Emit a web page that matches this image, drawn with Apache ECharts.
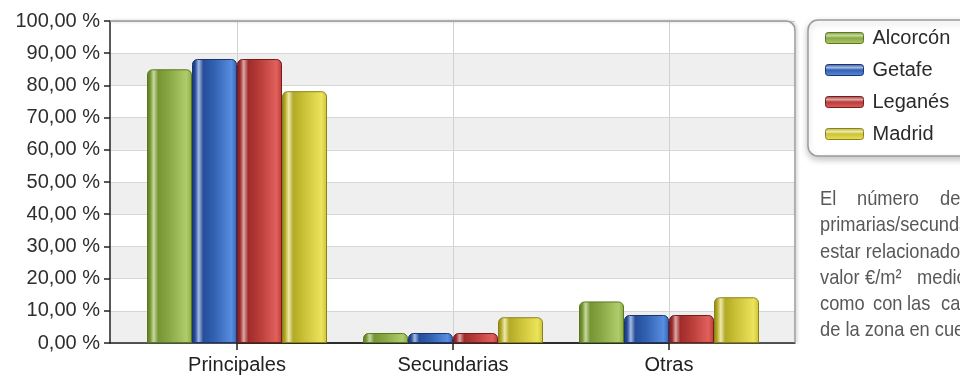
<!DOCTYPE html>
<html>
<head>
<meta charset="utf-8">
<script src="https://cdn.jsdelivr.net/npm/echarts@6/dist/echarts.min.js"></script>
<style>
  html, body { margin: 0; padding: 0; background: #ffffff; }
  #chart { width: 960px; height: 378px; }
</style>
</head>
<body>
<div id="chart"></div>
<script>
// ---- data ----
const categories = ['Principales', 'Secundarias', 'Otras'];
const cities = ['Alcorcón', 'Getafe', 'Leganés', 'Madrid'];
const alcorcon = [85.0, 3.1, 12.9];
const getafe = [88.2, 3.1, 8.7];
const leganes = [88.2, 3.1, 8.7];
const madrid = [78.2, 8.0, 14.2];
const yTickValues = [0, 10, 20, 30, 40, 50, 60, 70, 80, 90, 100];
const yTickLabels = ['0,00 %', '10,00 %', '20,00 %', '30,00 %', '40,00 %', '50,00 %',
                     '60,00 %', '70,00 %', '80,00 %', '90,00 %', '100,00 %'];

// ---- layout ----
const W = 960, H = 378;
const plot = { left: 110, top: 21, right: 795, bottom: 343 };   // full framed plot area
const groupCenters = { first: 237, last: 669 };                 // inner band holding the categories
const FONT = '"Liberation Sans", Arial, sans-serif';

// glossy cylinder palettes: edge, dark, highlight, mid, light
const palettes = [
  { edge: '#5a781e', dark: '#759532', hi: '#c6d99e', mid: '#8aa946', light: '#b0cc6a' },
  { edge: '#1a3571', dark: '#264d99', hi: '#a6bbe2', mid: '#3262b2', light: '#588ddf' },
  { edge: '#781b1b', dark: '#9e2c2c', hi: '#dba8a6', mid: '#b93c3a', light: '#e1605c' },
  { edge: '#8a8414', dark: '#b3aa26', hi: '#eee8ae', mid: '#cbc238', light: '#ebe35a' }
];

function linear(x2, y2, stops) {
  return { type: 'linear', x: 0, y: 0, x2: x2, y2: y2, colorStops: stops };
}
function barGradient(p) {
  return linear(1, 0, [
    { offset: 0.00, color: p.edge },
    { offset: 0.07, color: p.dark },
    { offset: 0.15, color: p.hi },
    { offset: 0.25, color: p.dark },
    { offset: 0.50, color: p.mid },
    { offset: 0.88, color: p.light },
    { offset: 1.00, color: p.mid }
  ]);
}
function swatchGradient(p) {
  return linear(0, 1, [
    { offset: 0.0, color: p.dark },
    { offset: 0.3, color: p.hi },
    { offset: 0.5, color: p.mid },
    { offset: 1.0, color: p.light }
  ]);
}

const seriesValues = [alcorcon, getafe, leganes, madrid];

const series = cities.map((name, i) => ({
  name: name,
  type: 'bar',
  xAxisIndex: 1,
  yAxisIndex: 1,
  data: seriesValues[i],
  barWidth: 45,
  barGap: '0%',
  clip: false,
  itemStyle: {
    color: barGradient(palettes[i]),
    borderColor: palettes[i].edge,
    borderWidth: 1,
    borderRadius: [5, 5, 0, 0]
  },
  emphasis: { disabled: true }
}));

// justified side note, one entry per word: [text, x]
const noteLines = [
  [['El', 820], ['número', 857], ['de', 940]],
  [['primarias/secundarias', 820]],
  [['estar relacionado con el', 820]],
  [['valor', 820], ['€/m²', 865], ['medio', 917]],
  [['como', 820], ['con', 873], ['las', 907], ['características', 941]],
  [['de la zona en cuestión.', 820]]
];
const noteBaseline0 = 206.5, noteLineStep = 26.3, noteFontSize = 21;
const noteText = [];
noteLines.forEach((line, li) => {
  line.forEach(([word, x]) => {
    noteText.push({
      type: 'text',
      x: x,
      y: noteBaseline0 + li * noteLineStep - noteFontSize * 0.35,
      scaleX: 0.87,
      silent: true,
      style: {
        text: word,
        fill: '#585858',
        font: noteFontSize + 'px ' + FONT,
        verticalAlign: 'middle',
        align: 'left'
      }
    });
  });
});

// frame: top edge, rounded top-right corner, right edge
const cr = 9;
const frameStyle = {
  stroke: '#9c9c9c', lineWidth: 1.5,
  shadowBlur: 3, shadowColor: 'rgba(0,0,0,0.25)', shadowOffsetX: 1.5
};
const frame = [
  { type: 'line', silent: true, z: 1,
    shape: { x1: plot.left, y1: plot.top, x2: plot.right - cr, y2: plot.top }, style: frameStyle },
  { type: 'arc', silent: true, z: 1,
    shape: { cx: plot.right - cr, cy: plot.top + cr, r: cr, startAngle: -Math.PI / 2, endAngle: 0, clockwise: true },
    style: Object.assign({ fill: null }, frameStyle) },
  { type: 'line', silent: true, z: 1,
    shape: { x1: plot.right, y1: plot.top + cr, x2: plot.right, y2: plot.bottom }, style: frameStyle }
];

const axisDark = { color: '#222222', width: 1.5 };

const option = {
  animation: false,
  backgroundColor: '#ffffff',
  textStyle: { fontFamily: FONT },
  grid: [
    { left: plot.left, right: W - plot.right, top: plot.top, bottom: H - plot.bottom },
    { left: groupCenters.first, right: W - groupCenters.last, top: plot.top, bottom: H - plot.bottom }
  ],
  xAxis: [
    {
      gridIndex: 0, type: 'category', data: [''],
      axisLine: { show: true, lineStyle: axisDark },
      axisTick: { show: false }, axisLabel: { show: false }, splitLine: { show: false }
    },
    {
      gridIndex: 1, type: 'category', data: categories, boundaryGap: false,
      axisLine: { show: true, lineStyle: axisDark },
      axisTick: { show: true, length: 7, lineStyle: { color: '#222222', width: 1.5 } },
      axisLabel: { fontSize: 20, color: '#222222', margin: 12, fontFamily: FONT },
      splitLine: { show: true, lineStyle: { color: '#d2d2d2', width: 1 } }
    }
  ],
  yAxis: [
    {
      gridIndex: 0, type: 'value', min: 0, max: 100, interval: 10,
      axisLine: { show: true, lineStyle: axisDark },
      axisTick: { show: true, length: 6, lineStyle: { color: '#222222', width: 1.5 } },
      axisLabel: {
        fontSize: 20, color: '#2e2e2e', margin: 10, fontFamily: FONT,
        formatter: v => yTickLabels[yTickValues.indexOf(Math.round(v))]
      },
      splitLine: { show: true, lineStyle: { color: '#d6d6d6', width: 1 } },
      splitArea: { show: true, areaStyle: { color: ['#efefef', '#ffffff'] } }
    },
    { gridIndex: 1, type: 'value', min: 0, max: 100, show: false }
  ],
  legend: {
    orient: 'vertical',
    left: 808,
    top: 20,
    padding: [8, 40, 12, 17],
    itemGap: 12,
    itemWidth: 38,
    itemHeight: 11,
    icon: 'roundRect',
    backgroundColor: '#ffffff',
    borderColor: '#9a9a9a',
    borderWidth: 1.5,
    borderRadius: 10,
    shadowBlur: 6,
    shadowColor: 'rgba(0,0,0,0.22)',
    shadowOffsetY: 3,
    selectedMode: false,
    textStyle: { fontSize: 20, lineHeight: 20, color: '#2a2a2a', fontFamily: FONT, padding: [0, 0, 0, 4] },
    data: cities.map((name, i) => ({
      name: name,
      itemStyle: { color: swatchGradient(palettes[i]), borderColor: palettes[i].edge, borderWidth: 1 }
    }))
  },
  graphic: frame.concat(noteText),
  series: series
};

const chart = echarts.init(document.getElementById('chart'), null, { renderer: 'canvas' });
chart.setOption(option);
</script>
</body>
</html>
